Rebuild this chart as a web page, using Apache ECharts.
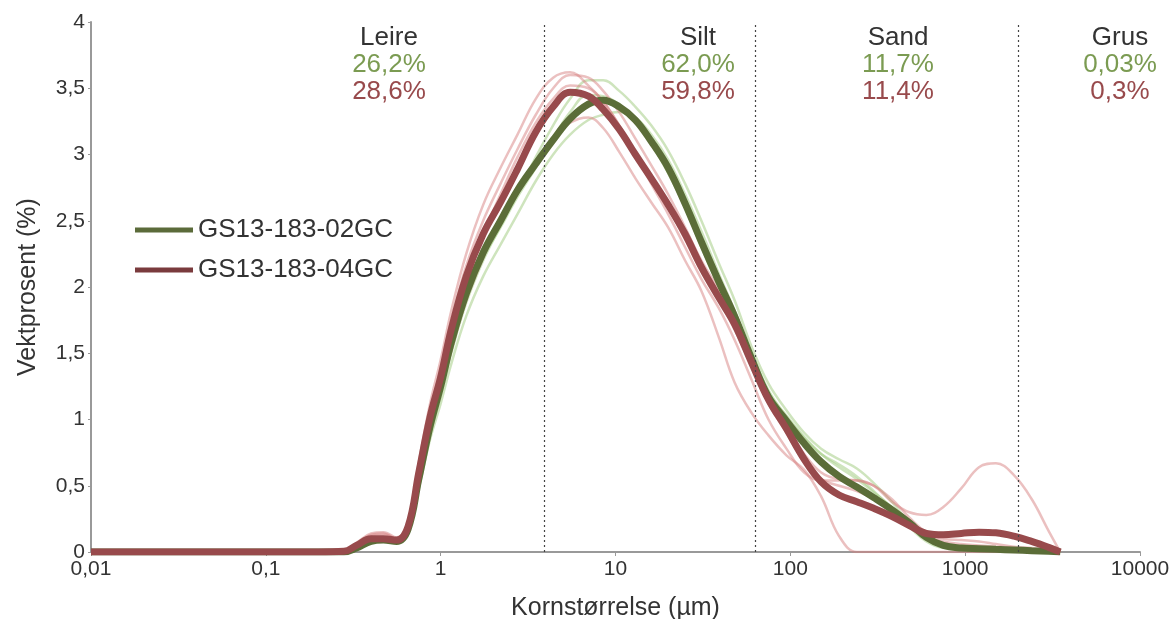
<!DOCTYPE html>
<html>
<head>
<meta charset="utf-8">
<script src="https://cdn.jsdelivr.net/npm/echarts@6/dist/echarts.min.js"></script>
<style>
  html, body { margin: 0; padding: 0; background: #fff; }
  #chart { width: 1174px; height: 619px; }
</style>
</head>
<body>
<div id="chart"></div>
<script>
// grain sizes (µm) shared by all curves
const sizes = [0.01, 0.2, 0.28, 0.33, 0.4, 0.47, 0.56, 0.65, 0.75, 0.87, 1, 1.15, 1.4, 1.75, 2.2, 2.75, 3.5, 4.4, 5.5, 7, 8.5, 10.5, 13, 16, 20, 25, 31, 39, 48, 60, 75, 95, 120, 150, 190, 240, 300, 380, 480, 600, 750, 950, 1200, 1500, 1900, 2400, 3000, 3500]

// mean curves
const gs02 = [0, 0, 0, 0.03, 0.08, 0.09, 0.08, 0.17, 0.55, 0.95, 1.25, 1.58, 1.95, 2.26, 2.5, 2.73, 2.93, 3.11, 3.27, 3.38, 3.41, 3.36, 3.26, 3.1, 2.9, 2.63, 2.34, 2.04, 1.78, 1.46, 1.17, 0.99, 0.82, 0.68, 0.57, 0.49, 0.41, 0.32, 0.22, 0.11, 0.05, 0.03, 0.025, 0.02, 0.015, 0.01, 0.005, 0]
const gs04 = [0, 0, 0.005, 0.05, 0.1, 0.1, 0.09, 0.19, 0.6, 1.02, 1.32, 1.68, 2.08, 2.4, 2.64, 2.89, 3.17, 3.36, 3.47, 3.44, 3.34, 3.19, 3.0, 2.82, 2.62, 2.4, 2.15, 1.92, 1.72, 1.43, 1.15, 0.93, 0.7, 0.53, 0.43, 0.38, 0.33, 0.27, 0.2, 0.14, 0.13, 0.14, 0.15, 0.145, 0.12, 0.08, 0.035, 0]

// single samples, GS13-183-02GC
const gs02a = [0, 0, 0, 0.02, 0.07, 0.08, 0.07, 0.15, 0.5, 0.88, 1.18, 1.5, 1.88, 2.2, 2.46, 2.7, 2.98, 3.22, 3.42, 3.56, 3.56, 3.48, 3.36, 3.22, 3.03, 2.78, 2.5, 2.18, 1.9, 1.55, 1.27, 1.07, 0.9, 0.78, 0.7, 0.63, 0.52, 0.38, 0.22, 0.1, 0.05, 0.03, 0.02, 0.015, 0.01, 0.01, 0.005, 0]
const gs02b = [0, 0, 0, 0.02, 0.07, 0.08, 0.07, 0.15, 0.48, 0.85, 1.12, 1.42, 1.78, 2.08, 2.32, 2.55, 2.8, 3.0, 3.15, 3.26, 3.3, 3.32, 3.28, 3.15, 2.96, 2.7, 2.42, 2.1, 1.82, 1.5, 1.22, 1.02, 0.86, 0.74, 0.66, 0.57, 0.46, 0.33, 0.19, 0.08, 0.03, 0.02, 0.015, 0.01, 0.01, 0.005, 0, 0]
const gs02c = [0, 0, 0, 0.03, 0.08, 0.09, 0.08, 0.16, 0.52, 0.9, 1.2, 1.52, 1.9, 2.22, 2.45, 2.68, 2.9, 3.12, 3.32, 3.45, 3.44, 3.38, 3.26, 3.08, 2.86, 2.6, 2.3, 2.0, 1.75, 1.45, 1.2, 1.03, 0.87, 0.74, 0.64, 0.55, 0.45, 0.34, 0.22, 0.1, 0.04, 0.025, 0.02, 0.015, 0.01, 0.01, 0.005, 0]

// single samples, GS13-183-04GC
const gs04a = [0, 0, 0.01, 0.07, 0.14, 0.15, 0.11, 0.23, 0.68, 1.12, 1.45, 1.82, 2.25, 2.62, 2.9, 3.15, 3.42, 3.58, 3.62, 3.52, 3.4, 3.22, 3.02, 2.82, 2.6, 2.36, 2.12, 1.9, 1.68, 1.4, 1.12, 0.9, 0.68, 0.55, 0.5, 0.46, 0.4, 0.3, 0.2, 0.12, 0.08, 0.06, 0.05, 0.04, 0.03, 0.02, 0.01, 0]
const gs04b = [0, 0, 0.005, 0.05, 0.12, 0.13, 0.1, 0.21, 0.62, 1.06, 1.38, 1.75, 2.16, 2.5, 2.78, 3.04, 3.3, 3.5, 3.6, 3.58, 3.48, 3.32, 3.12, 2.92, 2.7, 2.45, 2.2, 1.98, 1.76, 1.46, 1.16, 0.95, 0.74, 0.6, 0.55, 0.54, 0.5, 0.4, 0.26, 0.15, 0.1, 0.09, 0.08, 0.06, 0.04, 0.03, 0.015, 0]
const gs04c = [0, 0, 0, 0.04, 0.1, 0.11, 0.09, 0.18, 0.52, 0.92, 1.22, 1.52, 1.9, 2.22, 2.5, 2.72, 2.95, 3.12, 3.24, 3.28, 3.2, 3.02, 2.82, 2.64, 2.45, 2.2, 1.97, 1.62, 1.28, 1.05, 0.88, 0.73, 0.62, 0.42, 0.12, 0, 0, 0, 0, 0, 0, 0, 0, 0, 0, 0, 0, 0]
const gs04d = [0, 0, 0.005, 0.06, 0.13, 0.14, 0.1, 0.2, 0.58, 1.0, 1.32, 1.66, 2.06, 2.4, 2.7, 2.98, 3.24, 3.42, 3.52, 3.5, 3.4, 3.22, 3.0, 2.78, 2.55, 2.3, 2.06, 1.84, 1.6, 1.3, 1.0, 0.78, 0.6, 0.54, 0.54, 0.54, 0.5, 0.38, 0.3, 0.28, 0.34, 0.48, 0.64, 0.67, 0.58, 0.4, 0.16, 0]

// fraction limits (µm) and fraction shares
const limits = [3.9, 63, 2000]
const fractions = ['Leire', 'Silt', 'Sand', 'Grus']
const share02 = ['26,2%', '62,0%', '11,7%', '0,03%']
const share04 = ['28,6%', '59,8%', '11,4%', '0,3%']
const xTickLabels = ['0,01', '0,1', '1', '10', '100', '1000', '10000']

const green = '#5b6d38'
const red = '#984a4c'
const greenText = '#7b9b52'
const font = 'Liberation Sans, Arial, sans-serif'

const pts = vals => sizes.map((s, i) => [s, vals[i]])

const faint = (vals, color) => ({
  type: 'line',
  data: pts(vals),
  smooth: 0.4,
  symbol: 'none',
  silent: true,
  lineStyle: { color: color, width: 2.5 },
  z: 2
})

const fractionX = [389, 698, 898, 1120]
const texts = []
fractions.forEach((f, i) => {
  texts.push({ type: 'text', x: fractionX[i], y: 38, style: { text: f, fill: '#333', font: '26px ' + font, textAlign: 'center', textVerticalAlign: 'middle' } })
  texts.push({ type: 'text', x: fractionX[i], y: 65, style: { text: share02[i], fill: greenText, font: '26px ' + font, textAlign: 'center', textVerticalAlign: 'middle' } })
  texts.push({ type: 'text', x: fractionX[i], y: 92, style: { text: share04[i], fill: red, font: '26px ' + font, textAlign: 'center', textVerticalAlign: 'middle' } })
})

const chart = echarts.init(document.getElementById('chart'))
chart.setOption({
  animation: false,
  textStyle: { fontFamily: font },
  grid: { left: 91, right: 34, top: 22, bottom: 67, outerBoundsMode: 'none', containLabel: false },
  legend: {
    left: 130,
    top: 212,
    orient: 'vertical',
    icon: 'rect',
    itemWidth: 58,
    itemHeight: 5,
    itemGap: 14,
    textStyle: { fontSize: 26, color: '#333' },
    data: [
      { name: 'GS13-183-02GC', itemStyle: { color: '#5b6b3a' } },
      { name: 'GS13-183-04GC', itemStyle: { color: '#7a3b3d' } }
    ]
  },
  xAxis: {
    type: 'log',
    logBase: 10,
    min: 0.01,
    max: 10000,
    name: 'Kornstørrelse (µm)',
    nameLocation: 'middle',
    nameGap: 44,
    nameTextStyle: { fontSize: 25, color: '#333' },
    axisLine: { lineStyle: { color: '#999', width: 2 } },
    axisTick: { length: 4, lineStyle: { color: '#999' } },
    splitLine: { show: false },
    axisLabel: {
      fontSize: 21,
      color: '#333',
      margin: 7,
      formatter: v => xTickLabels[Math.round(Math.log10(v)) + 2]
    }
  },
  yAxis: {
    type: 'value',
    min: 0,
    max: 4,
    interval: 0.5,
    name: 'Vektprosent (%)',
    nameLocation: 'middle',
    nameGap: 50,
    nameTextStyle: { fontSize: 25, color: '#333' },
    axisLine: { show: true, lineStyle: { color: '#999', width: 2 } },
    axisTick: { show: true, length: 3, lineStyle: { color: '#999' } },
    splitLine: { show: false },
    axisLabel: {
      fontSize: 21,
      color: '#333',
      margin: 6,
      formatter: v => String(v).replace('.', ',')
    }
  },
  graphic: texts,
  series: [
    faint(gs02a, 'rgba(165,205,135,0.55)'),
    faint(gs02b, 'rgba(165,205,135,0.55)'),
    faint(gs02c, 'rgba(165,205,135,0.55)'),
    faint(gs04a, 'rgba(215,130,130,0.5)'),
    faint(gs04b, 'rgba(215,130,130,0.5)'),
    faint(gs04c, 'rgba(215,130,130,0.5)'),
    faint(gs04d, 'rgba(215,130,130,0.5)'),
    {
      name: 'GS13-183-02GC',
      type: 'line',
      data: pts(gs02),
      smooth: 0.4,
      symbol: 'none',
      lineStyle: { color: green, width: 7 },
      itemStyle: { color: green },
      z: 3,
      markLine: {
        silent: true,
        symbol: 'none',
        label: { show: false },
        lineStyle: { color: '#444', type: [2, 3], width: 1.2 },
        data: limits.map(v => ({ xAxis: v }))
      }
    },
    {
      name: 'GS13-183-04GC',
      type: 'line',
      data: pts(gs04),
      smooth: 0.4,
      symbol: 'none',
      lineStyle: { color: red, width: 7 },
      itemStyle: { color: red },
      z: 4
    }
  ]
})
</script>
</body>
</html>
